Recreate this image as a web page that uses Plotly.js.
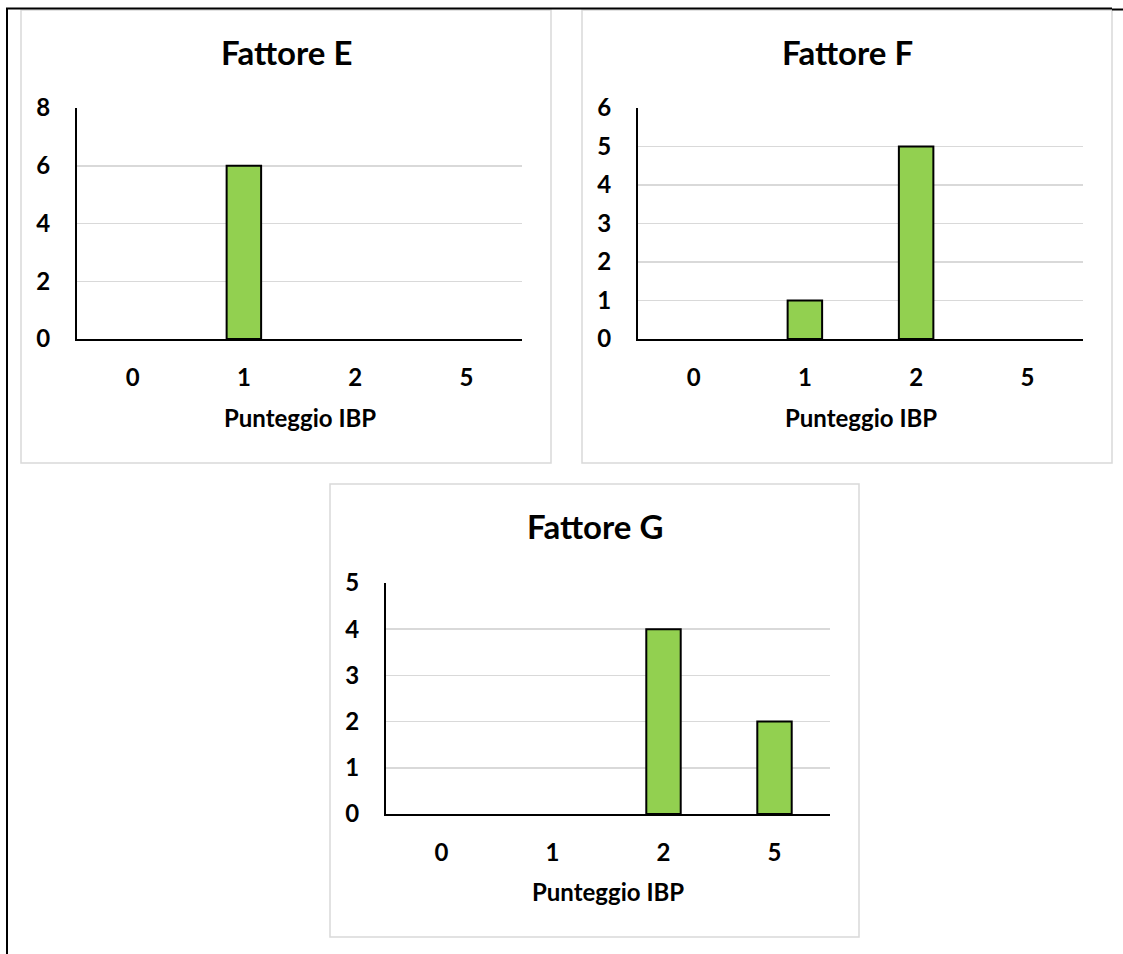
<!DOCTYPE html>
<html>
<head>
<meta charset="utf-8">
<script src="https://cdn.plot.ly/plotly-3.0.1.min.js"></script>
<style>
  html, body { margin: 0; padding: 0; background: #ffffff; }
  #chart { width: 1123px; height: 954px; }
</style>
</head>
<body>
<div id="chart"></div>
<script>
// Punteggio IBP categories shared by the three charts
const categories = ["0", "1", "2", "5"];

// Counts per score for each factor
const fattoreE = [0, 6, 0, 0];
const fattoreF = [0, 1, 5, 0];
const fattoreG = [0, 0, 4, 2];

const titles = ["Fattore E", "Fattore F", "Fattore G"];
const axisTitle = "Punteggio IBP";

const W = 1123, H = 954;
const FONT = "Lato, Carlito, Calibri, sans-serif";
const GREEN = "#92d050";
const GRID = "#d9d9d9";

// Convert pixel positions of the page into paper fractions
const px = x => x / W;
const py = y => 1 - y / H;

// Panel frames and plot areas (pixels)
const panels = [
  { frame: [21, 10, 551, 463],  plot: [77, 108, 522, 339],  yMax: 8, dtick: 2, data: fattoreE },
  { frame: [582, 10, 1112, 463], plot: [638, 108, 1083, 339], yMax: 6, dtick: 1, data: fattoreF },
  { frame: [330, 484, 859, 937], plot: [386, 583, 830, 814], yMax: 5, dtick: 1, data: fattoreG }
];

const traces = [];
const layout = {
  width: W, height: H,
  margin: { l: 0, r: 0, t: 0, b: 0 },
  paper_bgcolor: "#ffffff",
  plot_bgcolor: "rgba(0,0,0,0)",
  showlegend: false,
  font: { family: FONT, color: "#000000" },
  shapes: [],
  annotations: []
};

panels.forEach((p, i) => {
  const n = i === 0 ? "" : String(i + 1);
  const xa = "x" + n, ya = "y" + n;

  traces.push({
    type: "bar",
    x: categories,
    y: p.data,
    xaxis: xa, yaxis: ya,
    width: 0.31,
    marker: {
      color: GREEN,
      // empty categories get no outline stub on the baseline
      line: { color: "#000000", width: p.data.map(v => (v > 0 ? 2 : 0)) }
    },
    hoverinfo: "x+y"
  });

  const [l, t, r, b] = p.plot;
  layout["xaxis" + n] = {
    domain: [px(l), px(r)],
    anchor: ya,
    type: "category",
    range: [-0.5, 3.5],
    showline: true, linecolor: "#000000", linewidth: 2,
    showgrid: false, zeroline: false,
    ticks: "", ticklabelstandoff: 16,
    tickfont: { family: FONT, size: 24, color: "#000000", weight: "bold" },
    fixedrange: true
  };
  layout["yaxis" + n] = {
    domain: [py(b), py(t)],
    anchor: xa,
    range: [0, p.yMax],
    dtick: p.dtick, tick0: 0,
    showline: true, linecolor: "#000000", linewidth: 2,
    showgrid: true, gridcolor: GRID, gridwidth: 1.5,
    zeroline: false,
    ticks: "", ticklabelstandoff: 20,
    tickfont: { family: FONT, size: 24, color: "#000000", weight: "bold" },
    fixedrange: true
  };

  // light grey chart frame
  const [fl, ft, fr, fb] = p.frame;
  layout.shapes.push({
    type: "rect", xref: "paper", yref: "paper",
    x0: px(fl), x1: px(fr), y0: py(fb), y1: py(ft),
    line: { color: GRID, width: 1.5 }
  });

  const cx = px((l + r) / 2);
  const dy = ft - 10;
  layout.annotations.push({
    xref: "paper", yref: "paper", x: px((fl + fr) / 2), y: py(52 + dy),
    xanchor: "center", yanchor: "middle", showarrow: false,
    text: "<b>" + titles[i] + "</b>",
    font: { family: FONT, size: 33, color: "#000000" }
  });
  layout.annotations.push({
    xref: "paper", yref: "paper", x: cx, y: py(417 + dy),
    xanchor: "center", yanchor: "middle", showarrow: false,
    text: "<b>" + axisTitle + "</b>",
    font: { family: FONT, size: 24, color: "#000000" }
  });
});

// black page frame (top and left edges)
layout.shapes.push(
  { type: "line", xref: "paper", yref: "paper", x0: px(6), x1: px(1112), y0: py(8.5), y1: py(8.5),
    line: { color: "#000000", width: 2 } },
  { type: "line", xref: "paper", yref: "paper", x0: px(1112), x1: px(1123), y0: py(9.5), y1: py(9.5),
    line: { color: "#000000", width: 2 } },
  { type: "line", xref: "paper", yref: "paper", x0: px(7), x1: px(7), y0: py(8), y1: 0,
    line: { color: "#000000", width: 2 } }
);

Plotly.newPlot("chart", traces, layout, { displayModeBar: false, staticPlot: true });
</script>
</body>
</html>
